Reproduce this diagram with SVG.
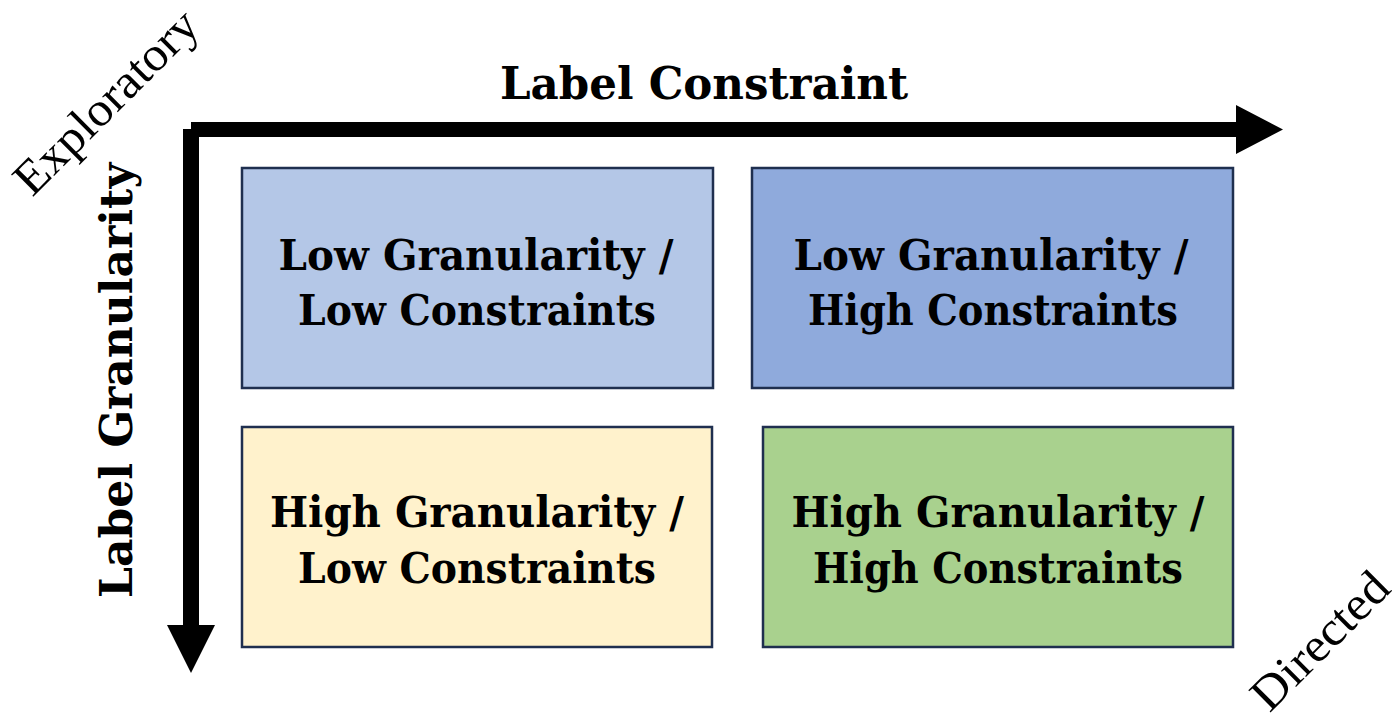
<svg xmlns="http://www.w3.org/2000/svg" width="1393" height="721" viewBox="0 0 1393 721">
  <style>
    .box { stroke: #1f2f4f; stroke-width: 2.5; }
    .cell { font-family: "DejaVu Serif", "Liberation Serif", serif; font-weight: bold; font-size: 43px; fill: #000; text-anchor: middle; }
    .axis { font-family: "DejaVu Serif", "Liberation Serif", serif; font-weight: bold; font-size: 45px; fill: #000; text-anchor: middle; }
    .tag { font-family: "Liberation Serif", "DejaVu Serif", serif; font-size: 48px; fill: #000; text-anchor: middle; }
  </style>
  <rect width="1393" height="721" fill="#ffffff"/>

  <!-- axis arrows -->
  <g id="connectors" fill="#000">
    <path id="x-axis" d="M191 122 H1236 V105 L1283 129.5 L1236 154 V137 H191 Z"/>
    <path id="y-axis" d="M183 129 H199 V625 H215 L191 673 L167 625 H183 Z"/>
  </g>

  <!-- axis titles -->
  <g id="axis-x-title">
    <text class="axis" x="704" y="99" textLength="408" lengthAdjust="spacingAndGlyphs">Label Constraint</text>
  </g>
  <g id="axis-y-title">
    <text class="axis" transform="translate(132 380.5) rotate(-90)" textLength="435" lengthAdjust="spacingAndGlyphs">Label Granularity</text>
  </g>
  <g id="tag-exploratory">
    <text class="tag" transform="translate(117 113) rotate(-45)" textLength="240" lengthAdjust="spacingAndGlyphs">Exploratory</text>
  </g>
  <g id="tag-directed">
    <text class="tag" transform="translate(1331 652) rotate(-45)" textLength="174" lengthAdjust="spacingAndGlyphs">Directed</text>
  </g>

  <!-- quadrants -->
  <g id="low-gran-low-con">
    <rect class="box" x="242" y="168" width="471" height="220" fill="#b4c7e7" stroke="#161b24"/>
    <text class="cell" x="476" y="270" textLength="395" lengthAdjust="spacingAndGlyphs">Low Granularity /</text>
    <text class="cell" x="477" y="325" textLength="358" lengthAdjust="spacingAndGlyphs">Low Constraints</text>
  </g>
  <g id="low-gran-high-con">
    <rect class="box" x="752" y="168" width="481" height="220" fill="#8faadc"/>
    <text class="cell" x="991" y="270" textLength="395" lengthAdjust="spacingAndGlyphs">Low Granularity /</text>
    <text class="cell" x="993" y="325" textLength="370" lengthAdjust="spacingAndGlyphs">High Constraints</text>
  </g>
  <g id="high-gran-low-con">
    <rect class="box" x="242" y="427" width="470" height="220" fill="#fff2cc"/>
    <text class="cell" x="477" y="527" textLength="414" lengthAdjust="spacingAndGlyphs">High Granularity /</text>
    <text class="cell" x="477" y="583" textLength="358" lengthAdjust="spacingAndGlyphs">Low Constraints</text>
  </g>
  <g id="high-gran-high-con">
    <rect class="box" x="763" y="427" width="470" height="220" fill="#a9d18e"/>
    <text class="cell" x="998" y="527" textLength="413" lengthAdjust="spacingAndGlyphs">High Granularity /</text>
    <text class="cell" x="998" y="583" textLength="370" lengthAdjust="spacingAndGlyphs">High Constraints</text>
  </g>
</svg>
